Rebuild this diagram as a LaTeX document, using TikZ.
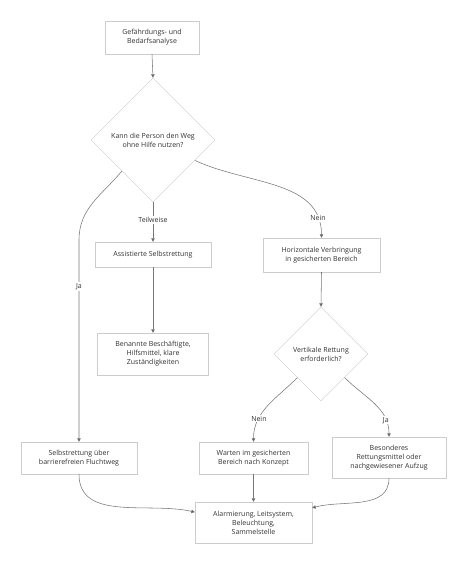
\documentclass[tikz,border=0pt]{standalone}
\usepackage{fontspec}
\setmainfont{Open Sans}
\usetikzlibrary{positioning,arrows.meta,shapes.geometric}
\definecolor{bd}{HTML}{CCCCCC}
\definecolor{ln}{HTML}{777777}
\definecolor{tx}{HTML}{333333}

\begin{document}
\begin{tikzpicture}[
  x=1pt, y=1pt,
  font=\fontsize{7}{9}\selectfont, text=tx,
  box/.style={draw=bd, fill=white, align=center, inner sep=2pt,
              minimum width=#1},
  dec/.style={diamond, aspect=1, draw=bd, fill=white, align=center,
              inner sep=1pt, minimum width=#1, minimum height=#1},
  lbl/.style={fill=white, inner sep=1pt, text=tx},
  edge/.style={draw=ln, line width=0.55pt,
               -{Triangle[length=3.5pt,width=3.5pt,fill=tx!80]}},
]
\useasboundingbox (0,0) rectangle (467,573);

% ---------- Kopf ----------
\node[box=94, minimum height=33] (ga) at (152,535.5)
  {Gefährdungs- und\\Bedarfsanalyse};
\node[dec=124] (d1) at (153,433)
  {Kann die Person den Weg\\ohne Hilfe nutzen?};

% ---------- Mittlere Spalte ----------
\node[box=116, minimum height=25] (as) at (153,318.5) {Assistierte Selbstrettung};
\node[box=111, minimum height=42] (bn) at (153,219)
  {Benannte Beschäftigte,\\Hilfsmittel, klare\\Zuständigkeiten};

% ---------- Rechte Spalte ----------
\node[box=117, minimum height=34] (hv) at (321.5,318)
  {Horizontale Verbringung\\in gesicherten Bereich};
\node[dec=94] (d2) at (321,219) {Vertikale Rettung\\erforderlich?};

% ---------- Untere Reihe ----------
\node[box=116, minimum height=32] (sf) at (79,115)
  {Selbstrettung über\\barrierefreien Fluchtweg};
\node[box=109, minimum height=32] (wa) at (253.5,115)
  {Warten im gesicherten\\Bereich nach Konzept};
\node[box=114, minimum height=41] (be) at (389,115.5)
  {Besonderes\\Rettungsmittel oder\\nachgewiesener Aufzug};
\node[box=117, minimum height=41] (fi) at (253.5,50.5)
  {Alarmierung, Leitsystem,\\Beleuchtung,\\Sammelstelle};

% ---------- Pfeile ----------
\draw[edge] (ga.south) -- (d1.north);
\draw[edge] (d1.south) -- node[lbl, pos=0.45]{Teilweise} (as.north);
\draw[edge] (d1.south west) to[out=-130, in=90] (79,333)
  -- node[lbl, pos=0.23]{Ja} (sf.north);
\draw[edge] (d1.-26) to[out=-25, in=90] node[lbl, pos=0.87]{Nein} (hv.north);
\draw[edge] (as.south) -- (bn.north);
\draw[edge] (hv.south) -- (d2.north);
\draw[edge] (d2.south west) to[out=-135, in=90] node[lbl, pos=0.7]{Nein} (wa.north);
\draw[edge] (d2.south east) to[out=-45, in=90] node[lbl, pos=0.78]{Ja} (be.north);
\draw[edge] (sf.south) to[out=-90, in=167] (fi.170);
\draw[edge] (wa.south) -- (fi.north);
\draw[edge] (be.south) to[out=-90, in=15] (fi.14);
\end{tikzpicture}
\end{document}
